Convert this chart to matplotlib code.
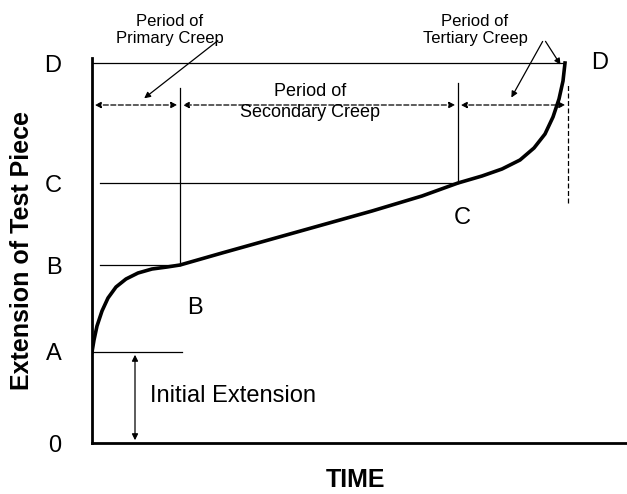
import matplotlib
matplotlib.use("Agg")
import matplotlib.pyplot as plt
import numpy as np

plt.rcParams['font.family'] = ['Liberation Sans', 'DejaVu Sans']

level_labels = ["0", "A", "B", "C", "D"]
level_values = [0, 91, 178, 260, 380]
curve_t = [0, 2, 5, 10, 16, 24, 34, 46, 60, 75, 88, 130, 180, 230, 280, 330, 366, 390, 410, 428, 442, 453, 461, 467, 471, 473]
curve_e = [91, 103, 117, 132, 145, 156, 164, 170, 174, 176, 178, 190, 204, 218, 232, 247, 260, 267, 274, 283, 295, 309, 326, 344, 362, 380]
t_b, t_c, t_end = 88, 366, 476

W, H = 627, 494
fig = plt.figure(figsize=(W/100, H/100), dpi=100)
x0, y0 = 92, 443
ax = fig.add_axes([x0/W, (H-y0)/H, (W-x0)/W, (y0-5)/H])
ax.set_xlim(0, W-x0)
ax.set_ylim(0, y0-5)
for s in ['top', 'right']:
    ax.spines[s].set_visible(False)
ax.spines['left'].set_bounds(0, 385)
ax.spines['left'].set_linewidth(2)
ax.spines['bottom'].set_linewidth(2)
ax.set_xticks([])
ax.set_yticks(level_values)
ax.set_yticklabels(level_labels, fontsize=17)
ax.tick_params(axis='y', length=0, pad=22)

ax.plot(curve_t, curve_e, color='black', lw=2.6)
A, B, C, D = level_values[1:]
lw = 0.9
ax.plot([0, 90], [A, A], color='black', lw=lw)
ax.plot([8, t_b], [B, B], color='black', lw=lw)
ax.plot([8, t_c], [C, C], color='black', lw=lw)
ax.plot([0, 472], [D, D], color='black', lw=lw)
ax.plot([t_b, t_b], [B, 355], color='black', lw=lw)
ax.plot([t_c, t_c], [C, 360], color='black', lw=lw)
ax.plot([t_end, t_end], [240, 360], color='black', lw=lw, ls=(0, (4, 2)))

ya = 338
for a, b in [(0, t_b), (t_b, t_c), (t_c, t_end)]:
    ax.annotate('', xy=(a, ya), xytext=(b, ya),
                arrowprops=dict(arrowstyle='<|-|>', ls=(0, (4, 2)), lw=0.9, color='black', mutation_scale=9))
ax.annotate('', xy=(43, 0), xytext=(43, A),
            arrowprops=dict(arrowstyle='<|-|>', lw=0.9, color='black', mutation_scale=9))

ax.text(78, 413, "Period of\nPrimary Creep", ha='center', va='center', fontsize=12, linespacing=1.1)
ax.annotate('', xy=(50, 343), xytext=(128, 404),
            arrowprops=dict(arrowstyle='-|>', lw=0.9, color='black', mutation_scale=9))
ax.text(218, 341, "Period of\nSecondary Creep", ha='center', va='center', fontsize=13, linespacing=1.3)
ax.text(383, 413, "Period of\nTertiary Creep", ha='center', va='center', fontsize=12, linespacing=1.1)
ax.annotate('', xy=(418, 343), xytext=(452, 404),
            arrowprops=dict(arrowstyle='-|>', lw=0.9, color='black', mutation_scale=9))
ax.annotate('', xy=(470, 376), xytext=(452, 404),
            arrowprops=dict(arrowstyle='-|>', lw=0.9, color='black', mutation_scale=9))
ax.text(508, D, "D", ha='center', va='center', fontsize=17)
ax.text(103, 135, "B", ha='center', va='center', fontsize=17)
ax.text(370, 225, "C", ha='center', va='center', fontsize=17)
ax.text(58, 47, "Initial Extension", ha='left', va='center', fontsize=17)

fig.text(356/W, 1-480/H, "TIME", ha='center', va='center', fontsize=18, fontweight='bold')
fig.text(22/W, 1-250/H, "Extension of Test Piece", ha='center', va='center', fontsize=18,
         fontweight='bold', rotation=90)
fig.savefig("out.png", dpi=100)
